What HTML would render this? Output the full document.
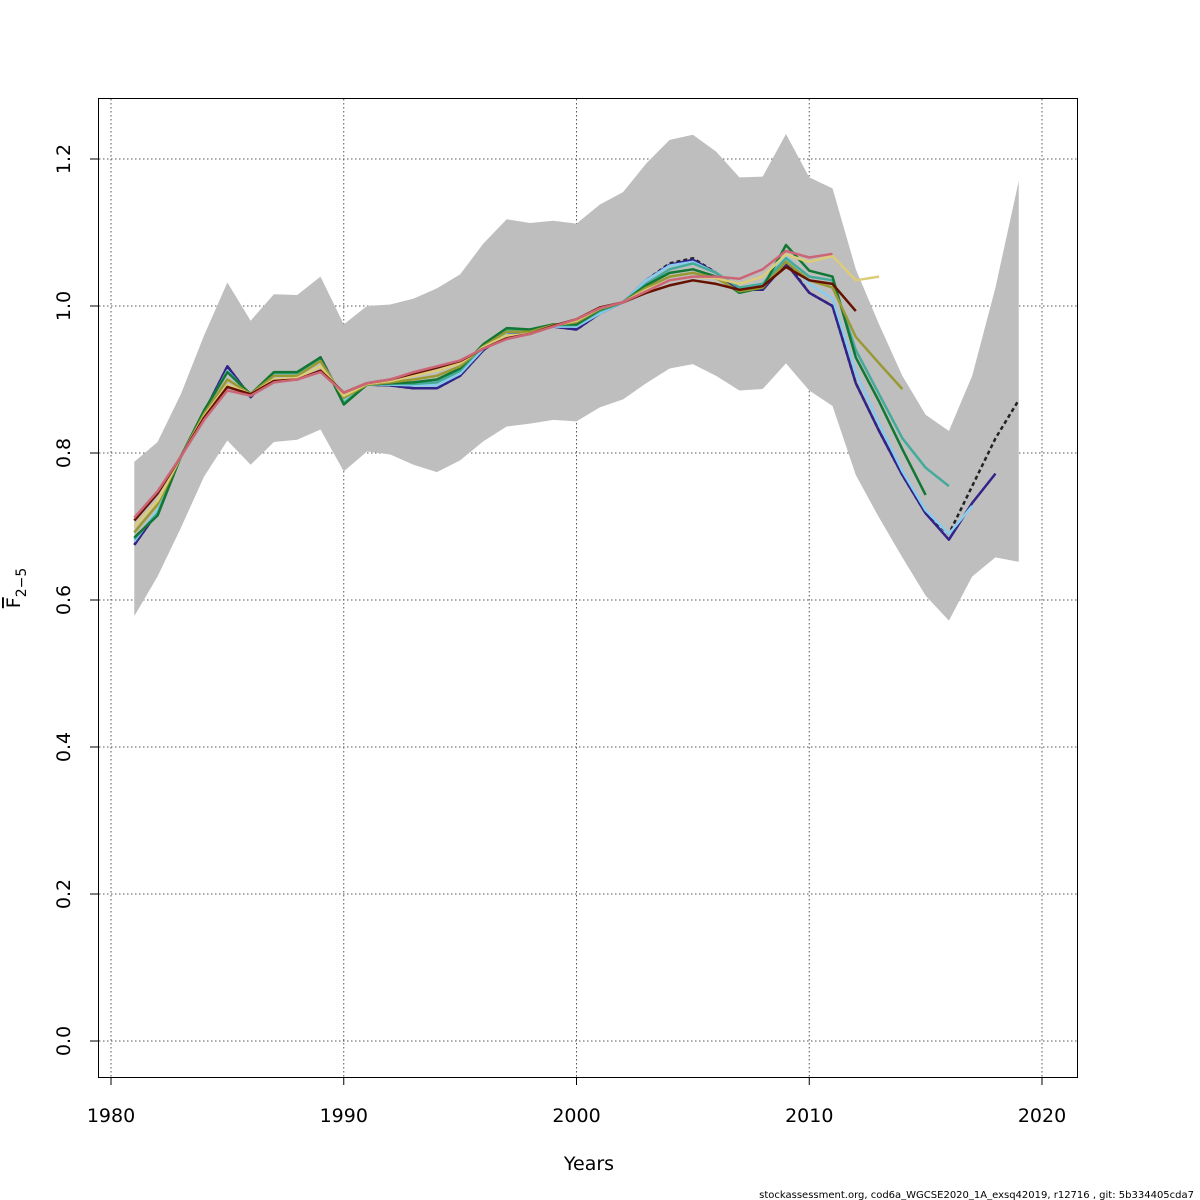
<!DOCTYPE html>
<html><head><meta charset="utf-8"><style>
html,body{margin:0;padding:0;background:#fff;width:1200px;height:1200px;overflow:hidden}
svg{display:block;font-family:"DejaVu Sans","Liberation Sans",sans-serif}
</style></head><body>
<svg id="chart" width="1200" height="1200" viewBox="0 0 1200 1200">
<g id="grid"></g>
<g id="band"></g>
<g id="series"></g>
<rect x="98.5" y="98.5" width="979" height="979" fill="none" stroke="#000" stroke-width="1"/>
<g id="axes"></g>
<text x="589" y="1170" font-size="19" text-anchor="middle">Years</text>
<text transform="translate(20,588) rotate(-90)" font-size="19" text-anchor="middle"><tspan text-decoration="overline">F</tspan><tspan font-size="14" dy="6">2−5</tspan></text>
<text x="1194" y="1198" font-size="10" text-anchor="end">stockassessment.org, cod6a_WGCSE2020_1A_exsq42019, r12716 , git: 5b334405cda7</text>
</svg>
<script>
const xTicks=[1980,1990,2000,2010,2020];
const yTicks=[0.0,0.2,0.4,0.6,0.8,1.0,1.2];
const yTickLabels=["0.0","0.2","0.4","0.6","0.8","1.0","1.2"];
const years=[1981,1982,1983,1984,1985,1986,1987,1988,1989,1990,1991,1992,1993,1994,1995,1996,1997,1998,1999,2000,2001,2002,2003,2004,2005,2006,2007,2008,2009,2010,2011,2012,2013,2014,2015,2016,2017,2018,2019];
const bandUpper=[0.788,0.815,0.88,0.96,1.032,0.98,1.016,1.015,1.04,0.975,1.0,1.002,1.01,1.024,1.043,1.085,1.118,1.113,1.116,1.112,1.138,1.155,1.194,1.226,1.233,1.21,1.175,1.176,1.234,1.175,1.16,1.05,0.975,0.905,0.852,0.83,0.905,1.025,1.17];
const bandLower=[0.578,0.632,0.698,0.768,0.817,0.784,0.815,0.818,0.832,0.775,0.802,0.798,0.784,0.774,0.79,0.816,0.836,0.84,0.845,0.843,0.862,0.873,0.895,0.915,0.921,0.905,0.885,0.887,0.922,0.885,0.864,0.77,0.712,0.658,0.606,0.572,0.632,0.658,0.652];
const base2019=[0.675,0.72,0.795,0.855,0.918,0.876,0.908,0.908,0.93,0.87,0.893,0.892,0.888,0.888,0.905,0.94,0.962,0.965,0.972,0.968,0.99,1.005,1.035,1.058,1.065,1.045,1.022,1.022,1.06,1.018,1.0,0.895,0.83,0.77,0.718,0.69,0.755,0.82,0.872];
const peel2018=[0.675,0.72,0.795,0.855,0.918,0.876,0.908,0.908,0.93,0.87,0.893,0.892,0.888,0.888,0.905,0.94,0.962,0.965,0.972,0.968,0.99,1.005,1.035,1.056,1.063,1.045,1.022,1.022,1.058,1.018,1.0,0.895,0.83,0.77,0.718,0.682,0.732,0.772];
const peel2017=[0.68,0.722,0.795,0.855,0.912,0.878,0.906,0.906,0.928,0.872,0.893,0.893,0.892,0.892,0.908,0.942,0.964,0.966,0.972,0.972,0.99,1.005,1.035,1.055,1.06,1.045,1.025,1.03,1.068,1.03,1.01,0.91,0.84,0.775,0.722,0.69,0.728];
const peel2016=[0.683,0.718,0.795,0.857,0.91,0.879,0.909,0.909,0.929,0.868,0.893,0.894,0.894,0.896,0.912,0.946,0.968,0.967,0.974,0.974,0.993,1.005,1.03,1.05,1.058,1.045,1.025,1.03,1.065,1.04,1.035,0.94,0.88,0.82,0.78,0.755];
const peel2015=[0.685,0.715,0.795,0.858,0.91,0.88,0.91,0.91,0.93,0.866,0.893,0.895,0.896,0.9,0.915,0.948,0.97,0.968,0.975,0.975,0.995,1.005,1.028,1.045,1.05,1.04,1.018,1.025,1.083,1.048,1.04,0.93,0.87,0.805,0.743];
const peel2014=[0.692,0.73,0.795,0.853,0.9,0.88,0.905,0.905,0.925,0.875,0.893,0.896,0.9,0.905,0.918,0.945,0.965,0.965,0.974,0.978,0.996,1.005,1.025,1.04,1.045,1.038,1.02,1.025,1.06,1.035,1.025,0.958,0.922,0.887];
const peel2013=[0.7,0.735,0.795,0.85,0.893,0.88,0.9,0.902,0.918,0.878,0.894,0.898,0.905,0.912,0.922,0.944,0.96,0.962,0.973,0.98,0.997,1.005,1.022,1.035,1.04,1.038,1.03,1.04,1.07,1.06,1.068,1.035,1.04];
const peel2012=[0.708,0.745,0.795,0.848,0.89,0.88,0.898,0.9,0.912,0.882,0.895,0.9,0.908,0.916,0.925,0.942,0.956,0.962,0.973,0.982,0.998,1.005,1.018,1.028,1.035,1.03,1.022,1.027,1.053,1.035,1.03,0.993];
const peel2011=[0.712,0.748,0.795,0.845,0.885,0.878,0.896,0.9,0.91,0.882,0.895,0.9,0.91,0.918,0.926,0.942,0.955,0.962,0.972,0.982,0.997,1.005,1.02,1.035,1.04,1.04,1.037,1.05,1.075,1.066,1.071];

const NS='http://www.w3.org/2000/svg';
const X=y=>111+(y-1980)*(1042-111)/40;
const Y=v=>1041-v*735;
function mk(tag,attrs,parent){const e=document.createElementNS(NS,tag);for(const k in attrs)e.setAttribute(k,attrs[k]);parent.appendChild(e);return e;}
const grid=document.getElementById('grid'),axes=document.getElementById('axes'),band=document.getElementById('band'),ser=document.getElementById('series');
xTicks.forEach(t=>{
  const l=mk('line',{x1:X(t),x2:X(t),y1:99,y2:1077,stroke:'#555','stroke-dasharray':'1.5,2.5','stroke-width':1},grid);
  
  
  const tk=mk('line',{x1:X(t),x2:X(t),y1:1077,y2:1085,stroke:'#000'},axes);
  
  
  const tx=mk('text',{x:X(t),y:1122,'font-size':19,'text-anchor':'middle'},axes);
  tx.textContent=t;
  
  
});
yTicks.forEach((t,i)=>{
  const l=mk('line',{x1:99,x2:1077,y1:Y(t),y2:Y(t),stroke:'#555','stroke-dasharray':'1.5,2.5','stroke-width':1},grid);
  
  
  const tk=mk('line',{x1:90,x2:98,y1:Y(t),y2:Y(t),stroke:'#000'},axes);
  
  
  const tx=mk('text',{transform:`translate(70,${Y(t)}) rotate(-90)`,'font-size':19,'text-anchor':'middle'},axes);
  tx.textContent=yTickLabels[i];
  
  
});
let pts=years.map((y,i)=>X(y)+','+Y(bandUpper[i]));
for(let i=years.length-1;i>=0;i--)pts.push(X(years[i])+','+Y(bandLower[i]));
const poly=mk('polygon',{points:pts.join(' '),fill:'#bebebe',stroke:'none'},band);


const seriesList=[
 [base2019,'#222222','4,3',2.5,'series-2019'],
 [peel2018,'#332288',null,2.5,'series-2018'],
 [peel2017,'#88CCEE',null,2.5,'series-2017'],
 [peel2016,'#44AA99',null,2.5,'series-2016'],
 [peel2015,'#117733',null,2.5,'series-2015'],
 [peel2014,'#999933',null,2.5,'series-2014'],
 [peel2013,'#DDCC77',null,2.5,'series-2013'],
 [peel2012,'#661100',null,2.5,'series-2012'],
 [peel2011,'#CC6677',null,2.5,'series-2011']];
seriesList.forEach(s=>{
  const d=s[0].map((v,i)=>(i?'L':'M')+X(years[i]).toFixed(1)+','+Y(v).toFixed(1)).join('');
  const a={d:d,fill:'none',stroke:s[1],'stroke-width':s[3],'stroke-linejoin':'round'};
  if(s[2])a['stroke-dasharray']=s[2];
  const p=mk('path',a,ser);
  
  
});
</script>
</body></html>
